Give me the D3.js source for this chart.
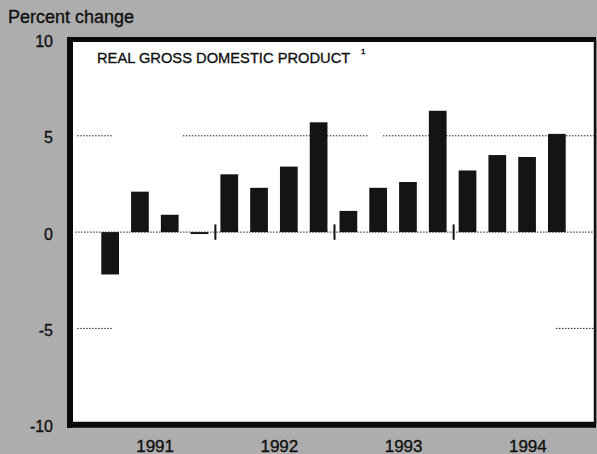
<!DOCTYPE html>
<html>
<head>
<meta charset="utf-8">
<script src="https://cdn.jsdelivr.net/npm/d3@7"></script>
<style>
  body { margin: 0; background: #adadad; }
  text { font-family: "Liberation Sans", Arial, Helvetica, sans-serif; fill: #111; stroke: #111; stroke-width: 0.35; }
</style>
</head>
<body>
<div id="chart"></div>
<script>
// quarterly data, 1991 Q1 - 1994 Q4
var quarters = ["1991Q1", "1991Q2", "1991Q3", "1991Q4",
                "1992Q1", "1992Q2", "1992Q3", "1992Q4",
                "1993Q1", "1993Q2", "1993Q3", "1993Q4",
                "1994Q1", "1994Q2", "1994Q3", "1994Q4"];
var gdpChange = [-2.2, 2.1, 0.9, -0.1,
                 3.0, 2.3, 3.4, 5.7,
                 1.1, 2.3, 2.6, 6.3,
                 3.2, 4.0, 3.9, 5.1];
var years = ["1991", "1992", "1993", "1994"];
var yTicks = [10, 5, 0, -5, -10];
var gridValues = [5, 0, -5];

var svgWidth = 597;
var svgHeight = 454;

var plot = { left: 73, right: 594, top: 39.5, bottom: 424.7 };

// dotted gridlines are broken in the original, spans given as fraction of plot width
var gridSpans = {
  "5": [[0.008, 0.077], [0.211, 0.566], [0.595, 1]],
  "0": [[0.004, 1]],
  "-5": [[0.008, 0.075], [0.927, 1]]
};

var svg = d3.select("#chart")
  .append("svg")
  .attr("width", svgWidth)
  .attr("height", svgHeight);

svg.append("rect")
  .attr("width", svgWidth)
  .attr("height", svgHeight)
  .attr("fill", "#adadad");

var xScale = d3.scaleBand()
  .domain(quarters)
  .range([plot.left, plot.right])
  .paddingInner(0.405)
  .paddingOuter(0.95);

var yScale = d3.scaleLinear()
  .domain([-10, 10])
  .range([plot.bottom, plot.top]);

var yearScale = d3.scaleBand()
  .domain(years)
  .range([93, 590]);

// white plot area
svg.append("rect")
  .attr("x", plot.left - 4)
  .attr("y", yScale(10))
  .attr("width", plot.right - plot.left + 4)
  .attr("height", yScale(-10) - yScale(10))
  .attr("fill", "#fff");

// gridlines
var plotW = plot.right - plot.left;
gridValues.forEach(function(v) {
  gridSpans[String(v)].forEach(function(s) {
    svg.append("line")
      .attr("x1", plot.left + s[0] * plotW)
      .attr("x2", plot.left + s[1] * plotW)
      .attr("y1", yScale(v))
      .attr("y2", yScale(v))
      .attr("stroke", "#222")
      .attr("stroke-width", 1)
      .attr("stroke-dasharray", "1.5,1.5");
  });
});

// bars
svg.selectAll("rect.bar")
  .data(gdpChange)
  .enter()
  .append("rect")
  .attr("class", "bar")
  .attr("x", (d, i) => xScale(quarters[i]))
  .attr("width", xScale.bandwidth())
  .attr("y", d => yScale(Math.max(0, d)))
  .attr("height", d => Math.abs(yScale(d) - yScale(0)))
  .attr("fill", "#141414");

// year separator ticks on the zero line
var gap = xScale.step() * xScale.paddingInner();
years.slice(1).forEach(function(yr) {
  var xPos = xScale(yr + "Q1") - gap / 2 + 1;
  svg.append("line")
    .attr("x1", xPos)
    .attr("x2", xPos)
    .attr("y1", yScale(0.4))
    .attr("y2", yScale(-0.4))
    .attr("stroke", "#111")
    .attr("stroke-width", 2);
});

// frame
svg.append("line")
  .attr("x1", plot.left - 3).attr("x2", plot.left - 3)
  .attr("y1", yScale(10) - 2.5).attr("y2", yScale(-10) + 3)
  .attr("stroke", "#0a0a0a").attr("stroke-width", 6);
svg.append("line")
  .attr("x1", plot.left - 6).attr("x2", plot.right + 2)
  .attr("y1", yScale(10)).attr("y2", yScale(10))
  .attr("stroke", "#0a0a0a").attr("stroke-width", 5);
svg.append("line")
  .attr("x1", plot.left - 6).attr("x2", plot.right + 2)
  .attr("y1", yScale(-10)).attr("y2", yScale(-10))
  .attr("stroke", "#0a0a0a").attr("stroke-width", 6);
svg.append("line")
  .attr("x1", plot.right + 1).attr("x2", plot.right + 1)
  .attr("y1", yScale(10)).attr("y2", yScale(-10))
  .attr("stroke", "#111").attr("stroke-width", 2.5);

// y tick labels
svg.selectAll("text.ytick")
  .data(yTicks)
  .enter()
  .append("text")
  .attr("class", "ytick")
  .attr("x", 53)
  .attr("y", d => yScale(d) + 7.5)
  .attr("text-anchor", "end")
  .attr("font-size", 16)
  .text(d => d);

// year labels
svg.selectAll("text.year")
  .data(years)
  .enter()
  .append("text")
  .attr("class", "year")
  .attr("x", d => yearScale(d) + yearScale.bandwidth() / 2)
  .attr("y", 451.5)
  .attr("text-anchor", "middle")
  .attr("font-size", 17)
  .text(d => d);

// axis title
svg.append("text")
  .attr("x", 8)
  .attr("y", 22.7)
  .attr("font-size", 18)
  .text("Percent change");

// chart title with footnote mark
svg.append("text")
  .attr("x", 97)
  .attr("y", 62.7)
  .attr("font-size", 14.7)
  .text("REAL GROSS DOMESTIC PRODUCT");

svg.append("text")
  .attr("x", 361)
  .attr("y", 54)
  .attr("font-size", 8)
  .attr("stroke-width", 0.2)
  .text("1");
</script>
</body>
</html>
